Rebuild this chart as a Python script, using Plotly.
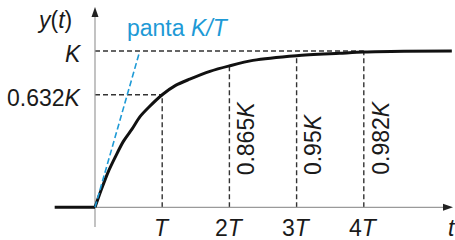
import plotly.graph_objects as go

# ---------------- data ----------------
step_t = [-0.6, 0.0]
step_y = [0.0, 0.0]
curve_t = [0, 0.1, 0.2, 0.3, 0.42, 0.55, 0.67, 0.8, 1.0, 1.2, 1.41, 1.71, 2.0, 2.35, 3.0, 3.64, 4.0, 4.6, 5.31]
curve_y = [0, 0.12, 0.23, 0.32, 0.42, 0.50, 0.58, 0.64, 0.72, 0.78, 0.82, 0.87, 0.905, 0.94, 0.97, 0.985, 0.993, 0.998, 1.0]
tangent_t = [0, 0.66]
tangent_y = [0, 0.99]
k_level = 1.0
y632_level = 0.72
guide_t = [1, 2, 3, 4]
guide_top = [0.72, 0.905, 0.97, 1.0]
guide_labels = ["0.865<i>K</i>", "0.95<i>K</i>", "0.982<i>K</i>"]
xtick_labels = ["<i>T</i>", "2<i>T</i>", "3<i>T</i>", "4<i>T</i>"]
ytick_vals = [y632_level, k_level]
ytick_labels = ["0.632<i>K</i>", "<i>K</i>"]

# ---------------- layout geometry ----------------
W, H = 455, 240
X0, SX = 95.0, 67.2      # pixel of t=0, pixels per T
Y0, SY = 207.3, 156.3    # pixel of y=0, pixels per K

def dx(px):
    return (px - X0) / SX

def dy(py):
    return (Y0 - py) / SY

FONT = "Liberation Sans, Arial, sans-serif"
FS = 23
BLUE = "#1e9ad6"
DASH_C = "#333333"
AXIS_C = "#9a9a9a"

fig = go.Figure()

# dashed guide lines
gx, gy = [], []
gx += [0, guide_t[-1], None]; gy += [k_level, k_level, None]
gx += [0, guide_t[0], None]; gy += [y632_level, y632_level, None]
for t, top in zip(guide_t, guide_top):
    gx += [t, t, None]; gy += [0, top, None]
fig.add_trace(go.Scatter(x=gx, y=gy, mode="lines",
                         line=dict(color=DASH_C, width=1.4, dash="5px,3px"),
                         hoverinfo="skip", showlegend=False))

# axes (gray lines)
fig.add_trace(go.Scatter(x=[0, 0], y=[dy(227), dy(14)], mode="lines",
                         line=dict(color=AXIS_C, width=1.2), hoverinfo="skip", showlegend=False))
fig.add_trace(go.Scatter(x=[0, dx(446)], y=[0, 0], mode="lines",
                         line=dict(color=AXIS_C, width=1.2), hoverinfo="skip", showlegend=False))

# step response
fig.add_trace(go.Scatter(x=step_t, y=step_y, mode="lines",
                         line=dict(color="#111111", width=3), hoverinfo="skip", showlegend=False))
fig.add_trace(go.Scatter(x=curve_t, y=curve_y, mode="lines", line_shape="spline",
                         line=dict(color="#111111", width=3, smoothing=0.8),
                         hoverinfo="skip", showlegend=False))

# tangent
fig.add_trace(go.Scatter(x=tangent_t, y=tangent_y, mode="lines",
                         line=dict(color=BLUE, width=1.6, dash="6px,3px"),
                         hoverinfo="skip", showlegend=False))

# arrowheads
shapes = [
    dict(type="path", xref="x", yref="y",
         path=f"M {dx(95)} {dy(7)} L {dx(91.5)} {dy(17)} L {dx(98.5)} {dy(17)} Z",
         fillcolor="#222222", line=dict(width=0)),
    dict(type="path", xref="x", yref="y",
         path=f"M {dx(453)} {dy(207.3)} L {dx(443)} {dy(203.8)} L {dx(443)} {dy(210.8)} Z",
         fillcolor="#222222", line=dict(width=0)),
]

ann = []
base = dict(showarrow=False, font=dict(family=FONT, size=FS, color="#1a1a1a"))
# y tick labels
for v, lab in zip(ytick_vals, ytick_labels):
    ann.append(dict(base, x=dx(84), y=v, text=lab, xanchor="right", yanchor="middle", yshift=-3))
# x tick labels
for t, lab in zip(guide_t, xtick_labels):
    ann.append(dict(base, x=t, y=dy(228), text=lab, xanchor="center", yanchor="middle"))
# rotated value labels
for t, lab in zip(guide_t[1:], guide_labels):
    ann.append(dict(base, x=t + 0.245, y=dy(177), text=lab, textangle=-90,
                    xanchor="center", yanchor="bottom"))
# axis titles
ann.append(dict(base, x=dx(54), y=dy(20), text="<i>y</i>(<i>t</i>)", xanchor="center", yanchor="middle"))
ann.append(dict(base, x=dx(446), y=dy(228), text="<i>t</i>", xanchor="left", yanchor="middle"))
# tangent label
ann.append(dict(showarrow=False, font=dict(family=FONT, size=FS, color=BLUE),
                x=dx(125), y=dy(28), text="panta <i>K/T</i>", xanchor="left", yanchor="middle"))

fig.update_layout(
    width=W, height=H,
    margin=dict(l=0, r=0, t=0, b=0),
    paper_bgcolor="white", plot_bgcolor="white",
    xaxis=dict(range=[dx(0), dx(W)], visible=False, fixedrange=True),
    yaxis=dict(range=[dy(H), dy(0)], visible=False, fixedrange=True),
    shapes=shapes, annotations=ann, showlegend=False,
)

fig.write_html("out.html", config={"displayModeBar": False, "staticPlot": True},
               post_script="document.body.style.margin='0';document.body.style.overflow='hidden';")
